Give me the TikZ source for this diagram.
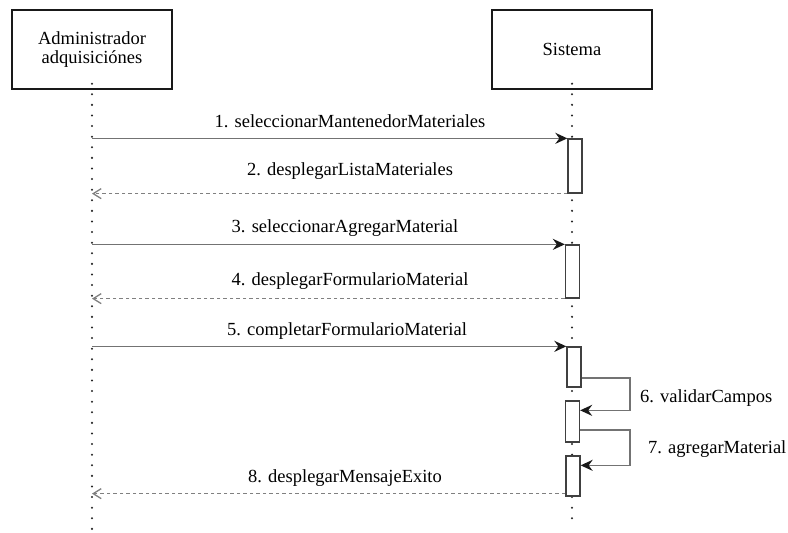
\documentclass[tikz,border=0pt]{standalone}
\usepackage{fontspec}
\setmainfont{Liberation Serif}
\usetikzlibrary{arrows.meta}
\begin{document}
\begin{tikzpicture}[x=1pt,y=-1pt,
  every node/.style={font=\fontsize{18.5}{18.5}\selectfont, text=black, inner sep=0pt},
  actor/.style={draw=black!90, line width=1.3pt, fill=white, minimum width=160pt, minimum height=79pt, align=center},
  bar/.style={draw=black!75, line width=1.3pt, fill=white, minimum width=14pt},
  lifeline/.style={draw=black!85, line width=2.3pt, line cap=round, dash pattern=on 0pt off 10.6pt},
  msg/.style={draw=black!55, line width=1.7pt, -{Stealth[length=12pt,width=11pt,inset=4pt,color=black!90,fill=black!90]}},
  ret/.style={draw=black!50, line width=1.6pt, dash pattern=on 3.5pt off 3pt, -{Straight Barb[length=8pt,width=10pt,line width=1.3pt]}},
  lbl/.style={anchor=base}
]
\useasboundingbox (0,0) rectangle (788,533);
% actors
\node[actor] (admin) at (92,49.5) {Administrador\\adquisiciónes};
\node[actor] (sys) at (572,49.5) {Sistema};
% lifeline ends
\coordinate (adminEnd) at (92,530);
\coordinate (sysEnd) at (572,522);
\draw[lifeline] ([yshift=6pt]admin.south) -- (adminEnd);
\draw[lifeline] ([yshift=6pt]sys.south) -- (sysEnd);
% activation bars
\node[bar, minimum height=54pt] (b1) at (575,166) {};
\node[bar, minimum height=53pt] (b2) at (572.5,271.5) {};
\node[bar, minimum height=40pt] (b3) at (574,367) {};
\node[bar, minimum height=41pt] (b4) at (572.5,421.5) {};
\node[bar, minimum height=40pt] (b5) at (573,476) {};
\coordinate (r8) at ([yshift=3pt]b5.south west);
% messages
\draw[msg] (admin.south |- b1.north west) -- (b1.north west);
\draw[ret] (b1.south west) -- (admin.south |- b1.south west);
\draw[msg] (admin.south |- b2.north west) -- (b2.north west);
\draw[ret] (b2.south west) -- (admin.south |- b2.south west);
\draw[msg] (admin.south |- b3.north west) -- (b3.north west);
\draw[msg] ([yshift=10pt]b3.south east) -- ++(48,0) |- ([yshift=-10pt]b4.north east);
\draw[msg] ([yshift=13pt]b4.south east) -- ++(50,0) |- ([yshift=-10pt]b5.north east);
\draw[ret] (r8) -- (admin.south |- r8);
% labels
\node[lbl] (t1) at (350,127) {1. seleccionarMantenedorMateriales};
\node[lbl] (t2) at (350,175) {2. desplegarListaMateriales};
\node[lbl] (t3) at (345,232) {3. seleccionarAgregarMaterial};
\node[lbl] (t4) at (350,285) {4. desplegarFormularioMaterial};
\node[lbl] (t5) at (347,335) {5. completarFormularioMaterial};
\node[lbl, anchor=base west] (t6) at (640,402) {6. validarCampos};
\node[lbl, anchor=base west] (t7) at (648,453) {7. agregarMaterial};
\node[lbl] (t8) at (345,482) {8. desplegarMensajeExito};
\end{tikzpicture}
\end{document}
